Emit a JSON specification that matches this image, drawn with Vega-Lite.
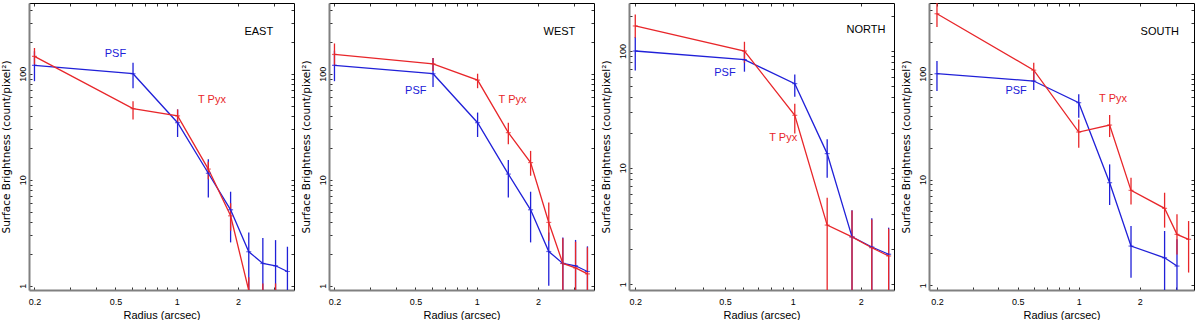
{
"$schema": "https://vega.github.io/schema/vega-lite/v6.json",
"autosize": {"type": "pad"},
"padding": {"left": 1, "top": 2, "right": 0, "bottom": 0},
"bounds": "flush",
"spacing": 35,
"config": {"view": {"stroke": null}, "axis": {"grid": false, "labelOverlap": false, "labelFlush": false, "tickColor": "#333333", "tickWidth": 1}},
"datasets": {
"d": [
{"p":"EAST","s":"PSF","r":0.2,"sb":120,"lo":85,"hi":163},
{"p":"EAST","s":"PSF","r":0.61,"sb":100,"lo":73,"hi":127},
{"p":"EAST","s":"PSF","r":1.01,"sb":34.5,"lo":25.3,"hi":46},
{"p":"EAST","s":"PSF","r":1.43,"sb":11.5,"lo":6.8,"hi":15.6},
{"p":"EAST","s":"PSF","r":1.84,"sb":5.2,"lo":2.56,"hi":7.7},
{"p":"EAST","s":"PSF","r":2.26,"sb":2.09,"lo":0.5,"hi":3.18},
{"p":"EAST","s":"PSF","r":2.65,"sb":1.62,"lo":0.5,"hi":2.81},
{"p":"EAST","s":"PSF","r":3.06,"sb":1.54,"lo":0.5,"hi":2.69},
{"p":"EAST","s":"PSF","r":3.5,"sb":1.36,"lo":0.5,"hi":2.33},
{"p":"EAST","s":"T Pyx","r":0.2,"sb":146,"lo":122,"hi":175},
{"p":"EAST","s":"T Pyx","r":0.61,"sb":46.8,"lo":37,"hi":55},
{"p":"EAST","s":"T Pyx","r":1.01,"sb":40,"lo":34,"hi":46},
{"p":"EAST","s":"T Pyx","r":1.43,"sb":12.6,"lo":10.1,"hi":14.8},
{"p":"EAST","s":"T Pyx","r":1.84,"sb":4.56,"lo":3.3,"hi":6.0},
{"p":"EAST","s":"T Pyx","r":2.26,"sb":0.9,"lo":0.5,"hi":1.2},
{"p":"EAST","s":"T Pyx","r":2.65,"sb":0.6,"lo":0.3,"hi":1.05},
{"p":"EAST","s":"T Pyx","r":3.06,"sb":0.6,"lo":0.3,"hi":1.05},
{"p":"WEST","s":"PSF","r":0.2,"sb":120,"lo":85,"hi":165},
{"p":"WEST","s":"PSF","r":0.61,"sb":100,"lo":75,"hi":141},
{"p":"WEST","s":"PSF","r":1.01,"sb":34.5,"lo":25.3,"hi":43},
{"p":"WEST","s":"PSF","r":1.43,"sb":11.3,"lo":6.8,"hi":15.3},
{"p":"WEST","s":"PSF","r":1.84,"sb":5.2,"lo":2.56,"hi":7.7},
{"p":"WEST","s":"PSF","r":2.26,"sb":2.1,"lo":1.0,"hi":3.18},
{"p":"WEST","s":"PSF","r":2.65,"sb":1.62,"lo":0.5,"hi":2.85},
{"p":"WEST","s":"PSF","r":3.06,"sb":1.54,"lo":0.5,"hi":2.7},
{"p":"WEST","s":"PSF","r":3.5,"sb":1.36,"lo":0.5,"hi":2.35},
{"p":"WEST","s":"T Pyx","r":0.2,"sb":152,"lo":118,"hi":193},
{"p":"WEST","s":"T Pyx","r":0.61,"sb":124,"lo":106,"hi":141},
{"p":"WEST","s":"T Pyx","r":1.01,"sb":87,"lo":73,"hi":100},
{"p":"WEST","s":"T Pyx","r":1.43,"sb":27.8,"lo":21.6,"hi":34.5},
{"p":"WEST","s":"T Pyx","r":1.84,"sb":14.5,"lo":10.9,"hi":18.7},
{"p":"WEST","s":"T Pyx","r":2.26,"sb":3.95,"lo":2.65,"hi":6.1},
{"p":"WEST","s":"T Pyx","r":2.65,"sb":1.62,"lo":0.5,"hi":2.8},
{"p":"WEST","s":"T Pyx","r":3.06,"sb":1.47,"lo":0.5,"hi":2.6},
{"p":"WEST","s":"T Pyx","r":3.5,"sb":1.29,"lo":0.5,"hi":2.3},
{"p":"NORTH","s":"PSF","r":0.2,"sb":100,"lo":68,"hi":132},
{"p":"NORTH","s":"PSF","r":0.61,"sb":84.3,"lo":66.5,"hi":100},
{"p":"NORTH","s":"PSF","r":1.02,"sb":52.5,"lo":40.6,"hi":63},
{"p":"NORTH","s":"PSF","r":1.42,"sb":13.2,"lo":8.2,"hi":17.5},
{"p":"NORTH","s":"PSF","r":1.83,"sb":2.55,"lo":0.5,"hi":4.31},
{"p":"NORTH","s":"PSF","r":2.24,"sb":2.09,"lo":0.5,"hi":3.68},
{"p":"NORTH","s":"PSF","r":2.66,"sb":1.81,"lo":0.5,"hi":3.06},
{"p":"NORTH","s":"T Pyx","r":0.2,"sb":164,"lo":130,"hi":206},
{"p":"NORTH","s":"T Pyx","r":0.61,"sb":100,"lo":79.5,"hi":120},
{"p":"NORTH","s":"T Pyx","r":1.02,"sb":28.1,"lo":19.6,"hi":35.4},
{"p":"NORTH","s":"T Pyx","r":1.42,"sb":3.22,"lo":0.5,"hi":5.53},
{"p":"NORTH","s":"T Pyx","r":1.83,"sb":2.55,"lo":0.5,"hi":4.3},
{"p":"NORTH","s":"T Pyx","r":2.24,"sb":2.06,"lo":0.5,"hi":3.6},
{"p":"NORTH","s":"T Pyx","r":2.66,"sb":1.75,"lo":0.5,"hi":3.0},
{"p":"SOUTH","s":"PSF","r":0.2,"sb":100,"lo":68.6,"hi":132},
{"p":"SOUTH","s":"PSF","r":0.6,"sb":85.3,"lo":70,"hi":105},
{"p":"SOUTH","s":"PSF","r":1.0,"sb":53.2,"lo":38.4,"hi":63.8},
{"p":"SOUTH","s":"PSF","r":1.42,"sb":9.33,"lo":5.74,"hi":13.9},
{"p":"SOUTH","s":"PSF","r":1.81,"sb":2.35,"lo":1.18,"hi":3.64},
{"p":"SOUTH","s":"PSF","r":2.65,"sb":1.82,"lo":0.5,"hi":3.26},
{"p":"SOUTH","s":"PSF","r":3.05,"sb":1.52,"lo":0.5,"hi":2.72},
{"p":"SOUTH","s":"T Pyx","r":0.2,"sb":369,"lo":276,"hi":470},
{"p":"SOUTH","s":"T Pyx","r":0.6,"sb":108,"lo":85.3,"hi":127},
{"p":"SOUTH","s":"T Pyx","r":1.0,"sb":28.1,"lo":20,"hi":37},
{"p":"SOUTH","s":"T Pyx","r":1.42,"sb":32.7,"lo":25.2,"hi":40.7},
{"p":"SOUTH","s":"T Pyx","r":1.81,"sb":7.9,"lo":5.82,"hi":10.4},
{"p":"SOUTH","s":"T Pyx","r":2.65,"sb":5.34,"lo":3.51,"hi":7.5},
{"p":"SOUTH","s":"T Pyx","r":3.05,"sb":3.03,"lo":1.96,"hi":4.69},
{"p":"SOUTH","s":"T Pyx","r":3.48,"sb":2.72,"lo":1.32,"hi":4.05}
],
"t": [
{"p":"EAST","s":"lab","label":"EAST","r":2.53,"sb":248},
{"p":"EAST","s":"PSF","label":"PSF","r":0.5,"sb":152},
{"p":"EAST","s":"T Pyx","label":"T Pyx","r":1.49,"sb":56},
{"p":"WEST","s":"lab","label":"WEST","r":2.55,"sb":248},
{"p":"WEST","s":"PSF","label":"PSF","r":0.502,"sb":68.6},
{"p":"WEST","s":"T Pyx","label":"T Pyx","r":1.5,"sb":56},
{"p":"NORTH","s":"lab","label":"NORTH","r":2.11,"sb":150},
{"p":"NORTH","s":"PSF","label":"PSF","r":0.5,"sb":65},
{"p":"NORTH","s":"T Pyx","label":"T Pyx","r":0.906,"sb":18},
{"p":"SOUTH","s":"lab","label":"SOUTH","r":2.51,"sb":249},
{"p":"SOUTH","s":"PSF","label":"PSF","r":0.491,"sb":68.6},
{"p":"SOUTH","s":"T Pyx","label":"T Pyx","r":1.476,"sb":58}
]
},
"hconcat": [
{
"width": 265, "height": 287,
"layer": [
{"data": {"name": "d"}, "transform": [{"filter": "datum.p == 'EAST'"}],
 "mark": {"type": "rule", "clip": true, "strokeWidth": 1.3},
 "encoding": {
  "x": {"field": "r", "type": "quantitative", "scale": {"type": "log", "domain": [0.188, 3.77], "nice": false},
   "axis": {"orient": "bottom", "values": [0.2,0.3,0.4,0.5,0.6,0.7,0.8,0.9,1,2,3], "labelExpr": "indexof([0.2,0.5,1,2], datum.value) >= 0 ? datum.label : ''", "format": "~g", "tickSize": -3, "labelPadding": 10, "domainColor": "#808080", "domainWidth": 2, "labelFont": "Liberation Sans", "labelFontSize": 9, "labelColor": "#000000", "title": "Radius (arcsec)", "titleFont": "Liberation Sans Narrow, Liberation Sans", "titleFontSize": 11, "titleFontWeight": "normal", "titleColor": "#000000", "titlePadding": 3}},
  "y": {"field": "lo", "type": "quantitative", "scale": {"type": "log", "domain": [0.91, 465], "nice": false},
   "axis": {"orient": "left", "values": [1,2,3,4,5,6,7,8,9,10,20,30,40,50,60,70,80,90,100,200,300,400], "labelExpr": "datum.value == 1 || datum.value == 10 || datum.value == 100 ? datum.label : ''", "format": "d", "labelAngle": 270, "labelAlign": "center", "labelBaseline": "bottom", "tickSize": -3, "labelPadding": 5, "domainColor": "#808080", "domainWidth": 2, "labelFont": "Liberation Sans", "labelFontSize": 9, "labelColor": "#000000", "title": "Surface Brightness (count/pixel²)", "titleFont": "DejaVu Sans", "titleFontSize": 10.5, "titleFontWeight": "normal", "titleColor": "#000000", "titlePadding": 7}},
  "y2": {"field": "hi"},
  "color": {"field": "s", "type": "nominal", "scale": {"domain": ["PSF", "T Pyx", "lab"], "range": ["#2020d8", "#e8262a", "#000000"]}, "legend": null}
 }},
{"data": {"name": "d"}, "transform": [{"filter": "datum.p == 'EAST'"}],
 "mark": {"type": "line", "clip": true, "strokeWidth": 1.3},
 "encoding": {
  "x": {"field": "r", "type": "quantitative", "axis": {"orient": "top", "values": [0.2,0.3,0.4,0.5,0.6,0.7,0.8,0.9,1,2,3], "labels": false, "title": null, "tickSize": -3, "domainColor": "#000000", "domainWidth": 1}},
  "y": {"field": "sb", "type": "quantitative", "axis": {"orient": "right", "values": [1,2,3,4,5,6,7,8,9,10,20,30,40,50,60,70,80,90,100,200,300,400], "labels": false, "title": null, "tickSize": -3, "domainColor": "#000000", "domainWidth": 1}},
  "color": {"field": "s", "type": "nominal", "legend": null}
 }},
{"data": {"name": "d"}, "transform": [{"filter": "datum.p == 'EAST'"}],
 "mark": {"type": "tick", "orient": "horizontal", "size": 5, "thickness": 1.2, "clip": true},
 "encoding": {
  "x": {"field": "r", "type": "quantitative", "axis": null},
  "y": {"field": "sb", "type": "quantitative", "axis": null},
  "color": {"field": "s", "type": "nominal", "legend": null}
 }},
{"data": {"name": "t"}, "transform": [{"filter": "datum.p == 'EAST'"}],
 "mark": {"type": "text", "font": "Liberation Sans Narrow, Liberation Sans", "fontSize": 11, "align": "center", "baseline": "middle"},
 "encoding": {
  "x": {"field": "r", "type": "quantitative", "axis": null},
  "y": {"field": "sb", "type": "quantitative", "axis": null},
  "text": {"field": "label"},
  "color": {"field": "s", "type": "nominal", "legend": null}
 }}
],
"resolve": {"axis": {"x": "independent", "y": "independent"}}
},
{
"width": 265, "height": 287,
"layer": [
{"data": {"name": "d"}, "transform": [{"filter": "datum.p == 'WEST'"}],
 "mark": {"type": "rule", "clip": true, "strokeWidth": 1.3},
 "encoding": {
  "x": {"field": "r", "type": "quantitative", "scale": {"type": "log", "domain": [0.188, 3.77], "nice": false},
   "axis": {"orient": "bottom", "values": [0.2,0.3,0.4,0.5,0.6,0.7,0.8,0.9,1,2,3], "labelExpr": "indexof([0.2,0.5,1,2], datum.value) >= 0 ? datum.label : ''", "format": "~g", "tickSize": -3, "labelPadding": 10, "domainColor": "#808080", "domainWidth": 2, "labelFont": "Liberation Sans", "labelFontSize": 9, "labelColor": "#000000", "title": "Radius (arcsec)", "titleFont": "Liberation Sans Narrow, Liberation Sans", "titleFontSize": 11, "titleFontWeight": "normal", "titleColor": "#000000", "titlePadding": 3}},
  "y": {"field": "lo", "type": "quantitative", "scale": {"type": "log", "domain": [0.91, 465], "nice": false},
   "axis": {"orient": "left", "values": [1,2,3,4,5,6,7,8,9,10,20,30,40,50,60,70,80,90,100,200,300,400], "labelExpr": "datum.value == 1 || datum.value == 10 || datum.value == 100 ? datum.label : ''", "format": "d", "labelAngle": 270, "labelAlign": "center", "labelBaseline": "bottom", "tickSize": -3, "labelPadding": 5, "domainColor": "#808080", "domainWidth": 2, "labelFont": "Liberation Sans", "labelFontSize": 9, "labelColor": "#000000", "title": "Surface Brightness (count/pixel²)", "titleFont": "DejaVu Sans", "titleFontSize": 10.5, "titleFontWeight": "normal", "titleColor": "#000000", "titlePadding": 7}},
  "y2": {"field": "hi"},
  "color": {"field": "s", "type": "nominal", "scale": {"domain": ["PSF", "T Pyx", "lab"], "range": ["#2020d8", "#e8262a", "#000000"]}, "legend": null}
 }},
{"data": {"name": "d"}, "transform": [{"filter": "datum.p == 'WEST'"}],
 "mark": {"type": "line", "clip": true, "strokeWidth": 1.3},
 "encoding": {
  "x": {"field": "r", "type": "quantitative", "axis": {"orient": "top", "values": [0.2,0.3,0.4,0.5,0.6,0.7,0.8,0.9,1,2,3], "labels": false, "title": null, "tickSize": -3, "domainColor": "#000000", "domainWidth": 1}},
  "y": {"field": "sb", "type": "quantitative", "axis": {"orient": "right", "values": [1,2,3,4,5,6,7,8,9,10,20,30,40,50,60,70,80,90,100,200,300,400], "labels": false, "title": null, "tickSize": -3, "domainColor": "#000000", "domainWidth": 1}},
  "color": {"field": "s", "type": "nominal", "legend": null}
 }},
{"data": {"name": "d"}, "transform": [{"filter": "datum.p == 'WEST'"}],
 "mark": {"type": "tick", "orient": "horizontal", "size": 5, "thickness": 1.2, "clip": true},
 "encoding": {
  "x": {"field": "r", "type": "quantitative", "axis": null},
  "y": {"field": "sb", "type": "quantitative", "axis": null},
  "color": {"field": "s", "type": "nominal", "legend": null}
 }},
{"data": {"name": "t"}, "transform": [{"filter": "datum.p == 'WEST'"}],
 "mark": {"type": "text", "font": "Liberation Sans Narrow, Liberation Sans", "fontSize": 11, "align": "center", "baseline": "middle"},
 "encoding": {
  "x": {"field": "r", "type": "quantitative", "axis": null},
  "y": {"field": "sb", "type": "quantitative", "axis": null},
  "text": {"field": "label"},
  "color": {"field": "s", "type": "nominal", "legend": null}
 }}
],
"resolve": {"axis": {"x": "independent", "y": "independent"}}
},
{
"width": 265, "height": 287,
"layer": [
{"data": {"name": "d"}, "transform": [{"filter": "datum.p == 'NORTH'"}],
 "mark": {"type": "rule", "clip": true, "strokeWidth": 1.3},
 "encoding": {
  "x": {"field": "r", "type": "quantitative", "scale": {"type": "log", "domain": [0.1876, 2.81], "nice": false},
   "axis": {"orient": "bottom", "values": [0.2,0.3,0.4,0.5,0.6,0.7,0.8,0.9,1,2], "labelExpr": "indexof([0.2,0.5,1,2], datum.value) >= 0 ? datum.label : ''", "format": "~g", "tickSize": -3, "labelPadding": 10, "domainColor": "#808080", "domainWidth": 2, "labelFont": "Liberation Sans", "labelFontSize": 9, "labelColor": "#000000", "title": "Radius (arcsec)", "titleFont": "Liberation Sans Narrow, Liberation Sans", "titleFontSize": 11, "titleFontWeight": "normal", "titleColor": "#000000", "titlePadding": 3}},
  "y": {"field": "lo", "type": "quantitative", "scale": {"type": "log", "domain": [0.894, 258], "nice": false},
   "axis": {"orient": "left", "values": [1,2,3,4,5,6,7,8,9,10,20,30,40,50,60,70,80,90,100,200], "labelExpr": "datum.value == 1 || datum.value == 10 || datum.value == 100 ? datum.label : ''", "format": "d", "labelAngle": 270, "labelAlign": "center", "labelBaseline": "bottom", "tickSize": -3, "labelPadding": 5, "domainColor": "#808080", "domainWidth": 2, "labelFont": "Liberation Sans", "labelFontSize": 9, "labelColor": "#000000", "title": "Surface Brightness (count/pixel²)", "titleFont": "DejaVu Sans", "titleFontSize": 10.5, "titleFontWeight": "normal", "titleColor": "#000000", "titlePadding": 7}},
  "y2": {"field": "hi"},
  "color": {"field": "s", "type": "nominal", "scale": {"domain": ["PSF", "T Pyx", "lab"], "range": ["#2020d8", "#e8262a", "#000000"]}, "legend": null}
 }},
{"data": {"name": "d"}, "transform": [{"filter": "datum.p == 'NORTH'"}],
 "mark": {"type": "line", "clip": true, "strokeWidth": 1.3},
 "encoding": {
  "x": {"field": "r", "type": "quantitative", "axis": {"orient": "top", "values": [0.2,0.3,0.4,0.5,0.6,0.7,0.8,0.9,1,2], "labels": false, "title": null, "tickSize": -3, "domainColor": "#000000", "domainWidth": 1}},
  "y": {"field": "sb", "type": "quantitative", "axis": {"orient": "right", "values": [1,2,3,4,5,6,7,8,9,10,20,30,40,50,60,70,80,90,100,200], "labels": false, "title": null, "tickSize": -3, "domainColor": "#000000", "domainWidth": 1}},
  "color": {"field": "s", "type": "nominal", "legend": null}
 }},
{"data": {"name": "d"}, "transform": [{"filter": "datum.p == 'NORTH'"}],
 "mark": {"type": "tick", "orient": "horizontal", "size": 5, "thickness": 1.2, "clip": true},
 "encoding": {
  "x": {"field": "r", "type": "quantitative", "axis": null},
  "y": {"field": "sb", "type": "quantitative", "axis": null},
  "color": {"field": "s", "type": "nominal", "legend": null}
 }},
{"data": {"name": "t"}, "transform": [{"filter": "datum.p == 'NORTH'"}],
 "mark": {"type": "text", "font": "Liberation Sans Narrow, Liberation Sans", "fontSize": 11, "align": "center", "baseline": "middle"},
 "encoding": {
  "x": {"field": "r", "type": "quantitative", "axis": null},
  "y": {"field": "sb", "type": "quantitative", "axis": null},
  "text": {"field": "label"},
  "color": {"field": "s", "type": "nominal", "legend": null}
 }}
],
"resolve": {"axis": {"x": "independent", "y": "independent"}}
},
{
"width": 265, "height": 287,
"layer": [
{"data": {"name": "d"}, "transform": [{"filter": "datum.p == 'SOUTH'"}],
 "mark": {"type": "rule", "clip": true, "strokeWidth": 1.3},
 "encoding": {
  "x": {"field": "r", "type": "quantitative", "scale": {"type": "log", "domain": [0.1827, 3.7], "nice": false},
   "axis": {"orient": "bottom", "values": [0.2,0.3,0.4,0.5,0.6,0.7,0.8,0.9,1,2,3], "labelExpr": "indexof([0.2,0.5,1,2], datum.value) >= 0 ? datum.label : ''", "format": "~g", "tickSize": -3, "labelPadding": 10, "domainColor": "#808080", "domainWidth": 2, "labelFont": "Liberation Sans", "labelFontSize": 9, "labelColor": "#000000", "title": "Radius (arcsec)", "titleFont": "Liberation Sans Narrow, Liberation Sans", "titleFontSize": 11, "titleFontWeight": "normal", "titleColor": "#000000", "titlePadding": 3}},
  "y": {"field": "lo", "type": "quantitative", "scale": {"type": "log", "domain": [0.903, 466], "nice": false},
   "axis": {"orient": "left", "values": [1,2,3,4,5,6,7,8,9,10,20,30,40,50,60,70,80,90,100,200,300,400], "labelExpr": "datum.value == 1 || datum.value == 10 || datum.value == 100 ? datum.label : ''", "format": "d", "labelAngle": 270, "labelAlign": "center", "labelBaseline": "bottom", "tickSize": -3, "labelPadding": 5, "domainColor": "#808080", "domainWidth": 2, "labelFont": "Liberation Sans", "labelFontSize": 9, "labelColor": "#000000", "title": "Surface Brightness (count/pixel²)", "titleFont": "DejaVu Sans", "titleFontSize": 10.5, "titleFontWeight": "normal", "titleColor": "#000000", "titlePadding": 7}},
  "y2": {"field": "hi"},
  "color": {"field": "s", "type": "nominal", "scale": {"domain": ["PSF", "T Pyx", "lab"], "range": ["#2020d8", "#e8262a", "#000000"]}, "legend": null}
 }},
{"data": {"name": "d"}, "transform": [{"filter": "datum.p == 'SOUTH'"}],
 "mark": {"type": "line", "clip": true, "strokeWidth": 1.3},
 "encoding": {
  "x": {"field": "r", "type": "quantitative", "axis": {"orient": "top", "values": [0.2,0.3,0.4,0.5,0.6,0.7,0.8,0.9,1,2,3], "labels": false, "title": null, "tickSize": -3, "domainColor": "#000000", "domainWidth": 1}},
  "y": {"field": "sb", "type": "quantitative", "axis": {"orient": "right", "values": [1,2,3,4,5,6,7,8,9,10,20,30,40,50,60,70,80,90,100,200,300,400], "labels": false, "title": null, "tickSize": -3, "domainColor": "#000000", "domainWidth": 1}},
  "color": {"field": "s", "type": "nominal", "legend": null}
 }},
{"data": {"name": "d"}, "transform": [{"filter": "datum.p == 'SOUTH'"}],
 "mark": {"type": "tick", "orient": "horizontal", "size": 5, "thickness": 1.2, "clip": true},
 "encoding": {
  "x": {"field": "r", "type": "quantitative", "axis": null},
  "y": {"field": "sb", "type": "quantitative", "axis": null},
  "color": {"field": "s", "type": "nominal", "legend": null}
 }},
{"data": {"name": "t"}, "transform": [{"filter": "datum.p == 'SOUTH'"}],
 "mark": {"type": "text", "font": "Liberation Sans Narrow, Liberation Sans", "fontSize": 11, "align": "center", "baseline": "middle"},
 "encoding": {
  "x": {"field": "r", "type": "quantitative", "axis": null},
  "y": {"field": "sb", "type": "quantitative", "axis": null},
  "text": {"field": "label"},
  "color": {"field": "s", "type": "nominal", "legend": null}
 }}
],
"resolve": {"axis": {"x": "independent", "y": "independent"}}
}
]
}
